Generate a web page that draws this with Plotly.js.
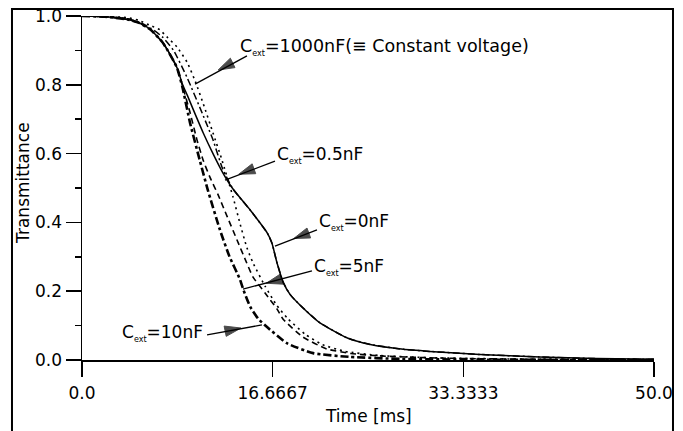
<!DOCTYPE html>
<html>
<head>
<meta charset="utf-8">
<script src="https://cdn.plot.ly/plotly-3.0.1.min.js"></script>
<style>html,body{margin:0;padding:0;background:#fff;}#chart{width:683px;height:431px;}</style>
</head>
<body>
<div id="chart"></div>
<script>
// ---- data ----
var t_0nF = [0,2,4,5,6,7,7.4,8.3,8.8,9.2,9.7,10.6,11.45,12.3,13.2,14.7,16.2,16.6,17.05,17.6,18.2,19.05,20.8,23.2,25.2,28.1,30.4,34.8,40,45,50];
var y_0nF = [1,0.998,0.99,0.98,0.96,0.925,0.905,0.85,0.8,0.77,0.73,0.66,0.6,0.545,0.497,0.436,0.369,0.34,0.282,0.225,0.19,0.16,0.108,0.064,0.045,0.031,0.025,0.016,0.009,0.004,0.002];

var t_05nF = [0,2,4,5,6,7,8,9.2,10.6,11.45,12.3,13.2,14.7,16.2,16.6,17.05,17.6,18.2,19.05,20.8,23.2,25.2,28.1,30.4,34.8,40,45,50];
var y_05nF = [1,0.998,0.992,0.982,0.965,0.94,0.9,0.82,0.71,0.64,0.555,0.497,0.436,0.369,0.34,0.282,0.225,0.19,0.16,0.108,0.064,0.045,0.031,0.025,0.016,0.009,0.004,0.002];

var t_1000nF = [0,2,4,5,6,6.8,7.4,8.3,9.2,9.9,10.6,11.45,12.2,13.2,13.8,14.4,14.95,16,17,18,19.5,21,23,26,30,35,40,50];
var y_1000nF = [1,0.999,0.995,0.987,0.972,0.96,0.94,0.91,0.865,0.81,0.745,0.66,0.585,0.474,0.398,0.328,0.282,0.215,0.16,0.12,0.075,0.045,0.025,0.013,0.007,0.004,0.002,0.001];

var t_5nF = [0,2,4,5,6,7,7.4,8.3,8.8,9.44,10.05,10.6,11.2,11.9,12.7,13.55,14.4,14.95,16,17.05,17.6,19.3,21.4,23.5,26,32,40,50];
var y_5nF = [1,0.998,0.99,0.98,0.96,0.925,0.905,0.85,0.795,0.72,0.64,0.58,0.53,0.48,0.416,0.349,0.282,0.241,0.195,0.148,0.118,0.067,0.032,0.019,0.012,0.005,0.002,0];

var t_10nF = [0,2,4,5,6,7,7.4,8.3,8.8,9.44,10.3,11.0,12.06,12.9,13.8,14.1,14.7,15.4,16.2,17.9,20.2,23.4,28,35,50];
var y_10nF = [1,0.998,0.99,0.98,0.96,0.925,0.905,0.85,0.79,0.69,0.58,0.494,0.378,0.3,0.235,0.205,0.155,0.12,0.095,0.049,0.02,0.009,0.003,0.001,0];

var xTickVals = [0, 16.6667, 33.3333, 50];
var xTickText = ['0.0', '16.6667', '33.3333', '50.0'];
var yTickVals = [0, 0.2, 0.4, 0.6, 0.8, 1.0];
var yTickText = ['0.0', '0.2', '0.4', '0.6', '0.8', '1.0'];
var yMinorVals = [0.1, 0.3, 0.5, 0.7, 0.9];

var SUB = 'C<sub><span style="font-size:8px">ext</span></sub>';
var labelText = [SUB + '=1000nF(≡ Constant voltage)', SUB + '=0.5nF', SUB + '=0nF', SUB + '=5nF', SUB + '=10nF'];
var labelX = [13.64, 16.87, 20.54, 20.1, 3.32];
var labelY = [0.91, 0.596, 0.401, 0.27, 0.078];
var arrowTail = [[14.42,0.884],[16.87,0.578],[20.54,0.378],[20.1,0.259],[10.93,0.073]];
var arrowHead = [[11.9,0.843],[13.7,0.54],[18.5,0.353],[16.1,0.223],[13.9,0.093]];
var arrowTip  = [[9.88,0.802],[12.5,0.523],[16.87,0.331],[14.07,0.206],[15.73,0.102]];

var FONT = 'DejaVu Sans, Liberation Sans, Arial, sans-serif';

function tr(x, y, dash, w) {
  return {x:x, y:y, type:'scatter', mode:'lines', hoverinfo:'skip',
    line:{color:'#000', width:w, dash:dash, shape:'spline', smoothing:0.5}};
}
var data = [
  tr(t_1000nF, y_1000nF, '2px,4px', 1.6),
  tr(t_05nF, y_05nF, '7px,3px,2px,3px', 1.5),
  tr(t_5nF, y_5nF, '6px,4px', 1.6),
  tr(t_10nF, y_10nF, '8px,3px,3px,3px', 2.6),
  tr(t_0nF, y_0nF, 'solid', 1.5)
];

var annotations = [];
var shapes = [];
for (var i = 0; i < labelText.length; i++) {
  annotations.push({x:labelX[i], y:labelY[i], xref:'x', yref:'y', text:labelText[i], showarrow:false,
    xanchor:'left', yanchor:'middle', font:{family:FONT, size:(i === 0 ? 17.5 : 17), color:'#000'}});
  shapes.push({type:'line', xref:'x', yref:'y', x0:arrowTail[i][0], y0:arrowTail[i][1], x1:arrowTip[i][0], y1:arrowTip[i][1],
    line:{color:'#000', width:1.3}});
  // arrow head as an oriented marker
  data.push({x:[arrowTail[i][0], arrowHead[i][0]], y:[arrowTail[i][1], arrowHead[i][1]], type:'scatter', mode:'markers',
    hoverinfo:'skip', cliponaxis:false,
    marker:{symbol:'arrow', angleref:'previous', size:[0, 17], color:'#000', line:{width:1, color:'#000'}}});
}
annotations.push({xref:'paper', yref:'paper', x:0.5, y:-0.163, text:'Time [ms]', showarrow:false,
  xanchor:'center', yanchor:'middle', font:{family:FONT, size:17, color:'#000'}});
annotations.push({xref:'paper', yref:'paper', x:-0.103, y:0.515, text:'Transmittance', showarrow:false,
  textangle:-90, xanchor:'center', yanchor:'middle', font:{family:FONT, size:17, color:'#000'}});

// outer frame
shapes.push({type:'rect', xref:'paper', yref:'paper', x0:-0.1224, x1:1.0332, y0:-0.215, y1:1.0203,
  line:{color:'#000', width:2}, fillcolor:'rgba(0,0,0,0)', layer:'above'});

var layout = {
  width:683, height:431,
  margin:{l:82, r:29, t:16, b:71},
  paper_bgcolor:'#fff', plot_bgcolor:'#fff',
  showlegend:false,
  font:{family:FONT, size:17, color:'#000'},
  xaxis:{range:[0,50], showline:true, linecolor:'#000', linewidth:2, showgrid:false, zeroline:false,
    ticks:'outside', ticklen:15, tickwidth:1.5, tickcolor:'#000', tickvals:xTickVals, ticktext:xTickText,
    tickfont:{family:FONT, size:17, color:'#000'}, ticklabelstandoff:2, fixedrange:true},
  yaxis:{range:[0,1], showline:true, linecolor:'#000', linewidth:1.5, showgrid:false, zeroline:false,
    ticks:'outside', ticklen:15, tickwidth:1.5, tickcolor:'#000', tickvals:yTickVals, ticktext:yTickText,
    tickfont:{family:FONT, size:17, color:'#000'}, fixedrange:true,
    minor:{tickvals:yMinorVals, ticks:'outside', ticklen:6, tickwidth:1.5, tickcolor:'#000', showgrid:false}},
  annotations:annotations,
  shapes:shapes
};

Plotly.newPlot('chart', data, layout, {displayModeBar:false, staticPlot:true});
</script>
</body>
</html>
